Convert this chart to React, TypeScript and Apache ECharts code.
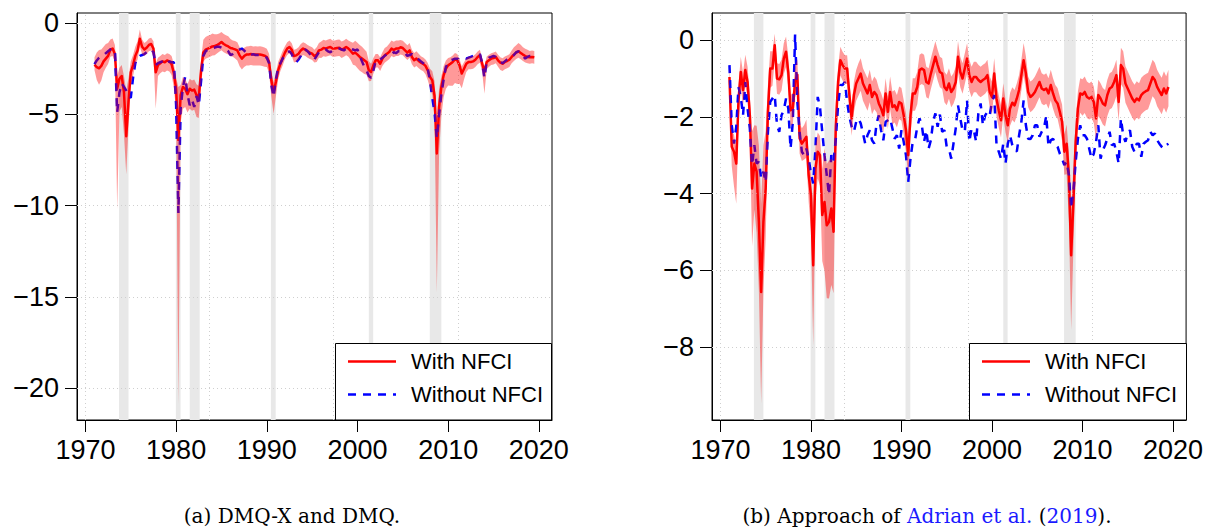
import React, { useEffect, useRef } from "react";
import * as echarts from "echarts";

// Quarterly observations, first quarter of 1971 through the third quarter of 2019.
const FIRST_YEAR = 1971;

const xTicks = [1970, 1980, 1990, 2000, 2010, 2020];
const xGridLines = [1970, 1983.69, 1997.38, 2011.07];
const yTicksA = [0, -5, -10, -15, -20];
const yTicksB = [0, -2, -4, -6, -8];

// NBER recession periods (start, end) in fractional years
const recessions: [number, number][] = [
  [1973.7, 1974.75],
  [1979.97, 1980.49],
  [1981.5, 1982.6],
  [1990.45, 1990.98],
  [2001.25, 2001.73],
  [2007.97, 2009.25],
];

// ---- Panel (a): DMQ-X (with NFCI) and DMQ (without NFCI) ----
const withNfciA = [
  -2.28, -2.42, -2.48, -2.35, -2.10, -1.95, -1.80, -1.45, -1.40, -1.70, -3.60, -3.05,
  -2.90, -3.80, -6.20, -4.30, -2.70, -2.30, -1.80, -1.50, -0.86, -1.30, -1.45, -1.35,
  -1.20, -1.15, -1.40, -2.70, -2.30, -2.20, -2.10, -2.15, -2.05, -2.10, -2.25, -2.75,
  -3.60, -6.40, -3.95, -3.50, -3.60, -3.90, -3.60, -3.70, -3.65, -3.95, -4.10, -2.60,
  -1.62, -1.46, -1.40, -1.35, -1.28, -1.26, -1.22, -1.13, -1.04, -1.15, -1.22, -1.28,
  -1.37, -1.40, -1.44, -1.50, -1.77, -1.95, -1.81, -1.73, -1.72, -1.70, -1.73, -1.72,
  -1.73, -1.72, -1.75, -1.79, -1.86, -2.13, -3.14, -3.78, -3.23, -2.59, -2.23, -1.92,
  -1.62, -1.40, -1.31, -1.46, -1.81, -1.77, -1.68, -1.50, -1.40, -1.46, -1.55, -1.62,
  -1.68, -1.81, -1.73, -1.50, -1.46, -1.37, -1.40, -1.35, -1.31, -1.40, -1.40, -1.37,
  -1.35, -1.46, -1.40, -1.31, -1.40, -1.53, -1.68, -1.62, -1.73, -1.86, -1.95, -2.04,
  -2.13, -2.59, -2.68, -2.32, -2.04, -2.04, -2.23, -1.95, -1.77, -1.68, -1.59, -1.40,
  -1.48, -1.40, -1.40, -1.33, -1.37, -1.50, -1.62, -1.50, -1.86, -2.04, -1.95, -2.08,
  -2.17, -2.24, -2.35, -2.59, -2.96, -3.14, -4.00, -7.15, -4.60, -3.50, -2.86, -2.50,
  -2.32, -2.23, -2.13, -1.99, -2.04, -2.32, -2.77, -2.50, -2.23, -2.13, -2.13, -2.10,
  -2.01, -1.86, -1.77, -2.23, -2.68, -2.13, -2.04, -1.95, -1.92, -1.86, -2.04, -2.17,
  -2.23, -2.13, -2.08, -2.01, -1.86, -1.73, -1.62, -1.55, -1.64, -1.73, -1.81, -1.86,
  -1.88, -1.86, -1.88,
];

const withoutNfciA = [
  -2.25, -2.05, -1.90, -1.80, -1.75, -1.65, -1.55, -1.45, -1.40, -1.50, -4.90, -3.80,
  -3.30, -3.50, -3.70, -4.00, -4.10, -3.00, -2.20, -1.90, -1.80, -1.75, -1.70, -1.60,
  -1.55, -1.45, -1.60, -2.30, -2.20, -2.15, -2.10, -2.05, -2.20, -2.10, -2.15, -2.15,
  -4.50, -10.40, -4.70, -3.50, -2.95, -3.90, -4.50, -4.20, -4.60, -4.00, -4.50, -3.20,
  -1.80, -1.55, -1.45, -1.40, -1.40, -1.35, -1.30, -1.30, -1.35, -1.40, -1.45, -1.55,
  -1.75, -1.70, -1.60, -1.50, -1.45, -1.40, -1.50, -1.65, -1.75, -1.75, -1.70, -1.75,
  -1.75, -1.75, -1.80, -1.85, -1.90, -2.20, -3.40, -4.05, -3.10, -2.45, -2.20, -1.95,
  -1.75, -1.60, -1.55, -1.70, -2.00, -2.15, -2.00, -1.80, -1.55, -1.45, -1.55, -1.70,
  -1.95, -2.00, -1.80, -1.60, -1.55, -1.50, -1.45, -1.55, -1.60, -1.50, -1.45, -1.40,
  -1.40, -1.45, -1.50, -1.40, -1.45, -1.40, -1.45, -1.50, -1.45, -1.80, -2.10, -2.40,
  -2.60, -2.90, -3.00, -2.60, -2.10, -2.00, -2.00, -1.90, -1.80, -1.70, -1.75, -1.70,
  -1.60, -1.65, -1.55, -1.55, -1.60, -1.65, -1.80, -1.75, -1.70, -1.80, -1.90, -2.00,
  -2.10, -2.20, -2.30, -2.50, -3.20, -4.10, -4.90, -6.30, -5.00, -3.90, -3.10, -2.40,
  -2.20, -2.05, -2.00, -1.95, -1.95, -2.00, -1.95, -1.90, -1.95, -1.90, -1.85, -1.80,
  -1.80, -1.75, -1.70, -2.20, -3.00, -2.10, -1.90, -1.85, -1.80, -1.85, -1.95, -2.10,
  -2.20, -2.10, -2.00, -1.95, -1.85, -1.75, -1.60, -1.55, -1.65, -1.80, -1.95, -1.85,
  -1.80, -1.80, -1.85,
];

// width of the shaded interval above / below the "with NFCI" line
const bandUpA = [
  0.40, 0.80, 1.00, 0.90, 0.80, 0.80, 0.70, 0.55, 0.55, 0.50, 0.70, 0.60,
  0.60, 0.90, 2.50, 1.30, 0.60, 0.55, 0.50, 0.50, 0.50, 0.40, 0.35, 0.35,
  0.35, 0.35, 0.40, 0.50, 0.40, 0.40, 0.40, 0.40, 0.40, 0.40, 0.45, 0.50,
  0.60, 2.90, 0.55, 0.55, 0.55, 0.55, 0.55, 0.55, 0.55, 0.60, 0.65, 0.60,
  0.70, 0.70, 0.70, 0.70, 0.70, 0.65, 0.60, 0.55, 0.55, 0.55, 0.55, 0.55,
  0.50, 0.45, 0.45, 0.45, 0.45, 0.45, 0.45, 0.45, 0.45, 0.45, 0.45, 0.45,
  0.45, 0.45, 0.45, 0.45, 0.45, 0.45, 0.50, 0.55, 0.50, 0.45, 0.40, 0.40,
  0.35, 0.35, 0.35, 0.35, 0.35, 0.35, 0.35, 0.35, 0.35, 0.35, 0.35, 0.35,
  0.35, 0.35, 0.40, 0.40, 0.45, 0.45, 0.45, 0.45, 0.45, 0.45, 0.45, 0.45,
  0.45, 0.45, 0.45, 0.45, 0.45, 0.50, 0.60, 0.65, 0.65, 0.65, 0.65, 0.60,
  0.55, 0.50, 0.45, 0.40, 0.35, 0.35, 0.35, 0.35, 0.40, 0.40, 0.45, 0.45,
  0.45, 0.45, 0.45, 0.40, 0.40, 0.40, 0.40, 0.40, 0.40, 0.40, 0.40, 0.40,
  0.35, 0.35, 0.35, 0.40, 0.45, 0.50, 0.80, 2.00, 1.00, 0.60, 0.50, 0.45,
  0.40, 0.35, 0.35, 0.35, 0.35, 0.35, 0.40, 0.35, 0.30, 0.30, 0.30, 0.30,
  0.30, 0.30, 0.30, 0.30, 0.30, 0.30, 0.30, 0.30, 0.30, 0.30, 0.30, 0.30,
  0.30, 0.30, 0.30, 0.30, 0.35, 0.40, 0.40, 0.45, 0.45, 0.40, 0.40, 0.40,
  0.35, 0.35, 0.35,
];

const bandDownA = [
  0.30, 0.70, 0.90, 0.80, 0.60, 0.50, 0.45, 0.40, 0.40, 0.45, 6.60, 1.80,
  1.70, 2.30, 2.10, 1.40, 0.80, 0.60, 0.50, 0.50, 0.45, 0.40, 0.35, 0.35,
  0.35, 0.35, 0.45, 2.00, 0.60, 0.55, 0.55, 0.55, 0.55, 0.55, 0.60, 0.80,
  1.20, 14.50, 1.50, 1.20, 1.00, 1.00, 1.10, 1.10, 1.10, 1.20, 1.10, 0.90,
  0.50, 0.50, 0.50, 0.50, 0.50, 0.50, 0.45, 0.45, 0.45, 0.45, 0.45, 0.45,
  0.45, 0.45, 0.50, 0.55, 0.60, 0.60, 0.60, 0.60, 0.60, 0.60, 0.60, 0.60,
  0.60, 0.60, 0.60, 0.60, 0.55, 0.60, 0.90, 1.20, 0.80, 0.50, 0.40, 0.40,
  0.35, 0.35, 0.35, 0.35, 0.35, 0.35, 0.35, 0.35, 0.35, 0.35, 0.35, 0.35,
  0.35, 0.35, 0.40, 0.40, 0.45, 0.45, 0.45, 0.45, 0.45, 0.45, 0.45, 0.45,
  0.45, 0.45, 0.45, 0.45, 0.45, 0.50, 0.60, 0.70, 0.75, 0.75, 0.75, 0.75,
  0.70, 0.60, 0.50, 0.45, 0.40, 0.40, 0.40, 0.40, 0.40, 0.40, 0.40, 0.40,
  0.40, 0.40, 0.40, 0.40, 0.40, 0.40, 0.40, 0.40, 0.40, 0.40, 0.40, 0.40,
  0.40, 0.40, 0.45, 0.55, 0.60, 0.80, 1.20, 7.60, 2.50, 1.60, 1.20, 1.10,
  1.10, 1.20, 1.30, 1.30, 1.30, 1.00, 0.80, 0.60, 0.45, 0.40, 0.40, 0.40,
  0.40, 0.40, 0.40, 0.45, 1.20, 0.40, 0.35, 0.35, 0.35, 0.35, 0.35, 0.40,
  0.40, 0.40, 0.40, 0.40, 0.35, 0.35, 0.35, 0.35, 0.35, 0.35, 0.35, 0.35,
  0.35, 0.35, 0.35,
];

// ---- Panel (b): approach of Adrian et al. (2019) ----
const withNfciB = [
  -0.96, -2.78, -2.91, -3.22, -1.55, -0.83, -1.30, -0.78, -1.09, -1.96, -3.87, -3.22,
  -3.43, -4.74, -6.57, -4.74, -3.87, -1.87, -0.74, -0.74, -0.13, -1.00, -1.02, -0.91,
  -0.48, -0.30, -0.83, -1.83, -1.78, -1.09, -0.90, -2.56, -2.70, -2.61, -2.52, -3.52,
  -4.04, -5.87, -3.35, -2.91, -3.00, -4.56, -4.22, -4.83, -4.74, -4.39, -5.00, -2.22,
  -1.09, -0.52, -0.65, -0.74, -0.74, -1.43, -2.04, -1.43, -1.13, -1.00, -0.87, -1.13,
  -1.26, -1.39, -1.17, -1.48, -1.35, -1.43, -1.65, -1.78, -1.96, -1.39, -1.87, -1.35,
  -1.74, -1.70, -1.83, -1.61, -1.65, -1.96, -2.35, -3.00, -1.96, -1.39, -1.39, -1.22,
  -0.78, -0.74, -0.78, -1.09, -1.13, -0.87, -0.65, -0.43, -0.65, -0.83, -0.87, -1.22,
  -1.30, -1.13, -1.35, -1.26, -1.09, -0.43, -0.83, -1.00, -0.74, -0.48, -0.91, -1.09,
  -0.96, -0.96, -1.04, -1.09, -1.04, -1.00, -0.91, -1.35, -1.48, -0.87, -1.52, -1.83,
  -2.09, -1.52, -1.96, -2.22, -1.78, -1.63, -1.70, -1.52, -1.30, -0.91, -0.52, -0.87,
  -1.35, -1.48, -1.43, -1.35, -1.22, -1.09, -1.26, -1.30, -1.26, -1.39, -1.17, -1.39,
  -1.57, -1.65, -1.87, -2.13, -2.91, -2.70, -3.52, -5.61, -4.22, -2.65, -1.78, -1.39,
  -1.42, -1.35, -1.48, -1.52, -1.48, -1.61, -2.04, -1.43, -1.52, -1.65, -1.70, -1.43,
  -1.26, -1.22, -1.09, -0.91, -1.61, -0.65, -0.74, -1.13, -1.26, -1.39, -1.52, -1.61,
  -1.52, -1.57, -1.43, -1.37, -1.33, -1.30, -1.13, -0.96, -1.04, -1.22, -1.33, -1.43,
  -1.26, -1.39, -1.22,
];

const withoutNfciB = [
  -0.65, -2.22, -2.70, -2.26, -1.22, -1.48, -1.96, -1.09, -1.78, -2.30, -3.26, -2.74,
  -3.22, -3.17, -3.61, -3.43, -3.70, -2.39, -1.61, -1.52, -1.43, -2.22, -2.39, -1.96,
  -1.83, -1.52, -1.78, -2.83, -2.13, 0.15, -1.61, -2.39, -2.91, -3.00, -2.83, -3.09,
  -3.48, -3.74, -2.83, -1.48, -1.74, -2.39, -3.00, -3.52, -4.04, -3.00, -3.17, -2.57,
  -1.70, -1.17, -1.17, -1.09, -1.61, -2.00, -2.26, -2.39, -2.13, -2.04, -2.17, -2.43,
  -2.70, -2.48, -2.35, -2.61, -2.70, -2.17, -1.96, -2.35, -2.61, -2.13, -2.09, -2.04,
  -2.30, -2.57, -2.48, -2.83, -2.35, -2.65, -3.00, -3.70, -3.09, -2.65, -2.61, -2.26,
  -2.04, -2.22, -2.65, -2.35, -2.83, -2.61, -2.13, -1.91, -2.26, -1.94, -2.39, -2.35,
  -2.78, -2.83, -3.09, -2.70, -2.30, -1.70, -2.04, -2.35, -2.39, -1.57, -2.65, -2.30,
  -2.35, -2.65, -1.91, -1.65, -2.22, -1.96, -1.87, -1.96, -1.61, -1.43, -2.70, -2.91,
  -3.09, -2.70, -3.22, -2.70, -2.48, -2.74, -2.87, -2.90, -2.48, -2.13, -1.57, -2.22,
  -2.57, -2.58, -2.48, -2.22, -2.22, -2.52, -2.39, -2.30, -1.96, -2.78, -2.61, -2.57,
  -2.70, -2.78, -2.96, -3.09, -3.26, -3.17, -3.52, -4.39, -3.96, -3.17, -2.57, -2.22,
  -2.48, -2.48, -2.57, -2.83, -3.09, -2.96, -2.65, -2.22, -3.09, -2.87, -2.74, -2.57,
  -2.39, -2.74, -2.70, -2.91, -3.22, -2.04, -2.48, -2.65, -2.43, -2.35, -2.78, -2.91,
  -2.70, -2.70, -3.04, -2.70, -2.65, -2.61, -2.39, -2.48, -2.43, -2.61, -2.70, -2.78,
  -2.83, -2.74, -2.70,
];

const bandUpB = [
  0.35, 0.40, 0.45, 0.40, 0.40, 0.40, 0.45, 0.40, 0.40, 0.50, 1.50, 1.00,
  1.20, 2.00, 2.30, 2.00, 1.50, 0.70, 0.45, 0.45, 0.30, 0.40, 0.40, 0.40,
  0.40, 0.40, 0.40, 0.40, 0.40, 0.40, 0.40, 0.40, 0.40, 0.40, 0.45, 0.50,
  0.55, 1.50, 0.60, 0.50, 0.50, 1.20, 1.40, 1.60, 1.60, 1.30, 1.80, 0.60,
  0.40, 0.35, 0.35, 0.35, 0.35, 0.35, 0.35, 0.35, 0.35, 0.40, 0.40, 0.40,
  0.40, 0.40, 0.40, 0.40, 0.40, 0.40, 0.40, 0.40, 0.40, 0.40, 0.40, 0.40,
  0.40, 0.40, 0.40, 0.40, 0.40, 0.40, 0.45, 0.45, 0.40, 0.40, 0.40, 0.40,
  0.40, 0.40, 0.40, 0.40, 0.40, 0.40, 0.40, 0.40, 0.40, 0.40, 0.40, 0.40,
  0.40, 0.40, 0.40, 0.40, 0.40, 0.40, 0.40, 0.40, 0.40, 0.40, 0.40, 0.40,
  0.40, 0.40, 0.40, 0.40, 0.40, 0.40, 0.40, 0.40, 0.40, 0.40, 0.40, 0.40,
  0.40, 0.40, 0.40, 0.40, 0.40, 0.40, 0.40, 0.40, 0.40, 0.40, 0.45, 0.45,
  0.40, 0.40, 0.40, 0.40, 0.40, 0.40, 0.40, 0.40, 0.40, 0.40, 0.40, 0.40,
  0.40, 0.40, 0.40, 0.45, 0.45, 0.50, 0.60, 1.20, 0.90, 0.60, 0.45, 0.40,
  0.40, 0.40, 0.40, 0.40, 0.40, 0.40, 0.40, 0.40, 0.40, 0.40, 0.40, 0.40,
  0.40, 0.40, 0.40, 0.40, 0.40, 0.45, 0.45, 0.45, 0.45, 0.45, 0.45, 0.45,
  0.45, 0.45, 0.45, 0.45, 0.45, 0.45, 0.45, 0.45, 0.45, 0.45, 0.45, 0.45,
  0.45, 0.45, 0.45,
];

const bandDownB = [
  0.35, 0.50, 0.90, 1.05, 0.60, 0.40, 0.40, 0.40, 0.40, 0.50, 1.50, 1.20,
  1.60, 1.80, 2.90, 1.80, 1.30, 0.70, 0.50, 0.45, 0.40, 0.40, 0.40, 0.40,
  0.40, 0.40, 0.40, 0.40, 0.40, 0.40, 0.40, 0.40, 0.45, 0.50, 0.55, 0.70,
  0.90, 2.10, 0.80, 0.70, 0.80, 1.20, 1.80, 1.90, 2.00, 2.00, 1.60, 0.80,
  0.50, 0.40, 0.40, 0.40, 0.40, 0.45, 0.45, 0.45, 0.45, 0.45, 0.45, 0.45,
  0.45, 0.45, 0.45, 0.45, 0.45, 0.45, 0.45, 0.45, 0.45, 0.45, 0.45, 0.45,
  0.45, 0.45, 0.45, 0.45, 0.45, 0.50, 0.55, 0.60, 0.50, 0.45, 0.45, 0.45,
  0.40, 0.40, 0.40, 0.40, 0.40, 0.40, 0.40, 0.40, 0.40, 0.40, 0.40, 0.40,
  0.40, 0.40, 0.40, 0.40, 0.40, 0.40, 0.40, 0.40, 0.40, 0.40, 0.40, 0.40,
  0.40, 0.40, 0.40, 0.40, 0.40, 0.40, 0.40, 0.40, 0.45, 0.45, 0.45, 0.45,
  0.45, 0.45, 0.45, 0.45, 0.45, 0.45, 0.45, 0.45, 0.40, 0.40, 0.40, 0.40,
  0.40, 0.40, 0.40, 0.40, 0.40, 0.40, 0.40, 0.40, 0.40, 0.40, 0.40, 0.40,
  0.40, 0.40, 0.45, 0.50, 0.60, 0.80, 1.20, 1.95, 1.20, 0.70, 0.55, 0.50,
  0.55, 0.55, 0.55, 0.55, 0.55, 0.55, 0.55, 0.55, 0.55, 0.55, 0.55, 0.55,
  0.55, 0.55, 0.55, 0.55, 0.50, 0.50, 0.50, 0.50, 0.50, 0.50, 0.50, 0.50,
  0.50, 0.50, 0.50, 0.50, 0.50, 0.50, 0.50, 0.50, 0.50, 0.50, 0.50, 0.50,
  0.50, 0.50, 0.50,
];

const RED = "#ff0000";
const BLUE = "#0000ff";
const BAND = "rgba(255,0,0,0.4)";
const SHADE = "#e8e8e8";
const GRIDLINE = "#cfcfcf";
const SANS = "'Liberation Sans', Arial, Helvetica, sans-serif";
const SERIF = "'DejaVu Serif', 'Liberation Serif', serif";

const quarterTime = (i: number) => FIRST_YEAR + i * 0.25;
const minus = (v: number) => (v < 0 ? "\u2212" + Math.abs(v) : String(v));

type Panel = {
  withNfci: number[];
  withoutNfci: number[];
  up: number[];
  down: number[];
  yMin: number;
  yMax: number;
  yTicks: number[];
  grid: { left: number; top: number; width: number; height: number };
};

const panels: Panel[] = [
  {
    withNfci: withNfciA,
    withoutNfci: withoutNfciA,
    up: bandUpA,
    down: bandDownA,
    yMin: -21.75,
    yMax: 0.55,
    yTicks: yTicksA,
    grid: { left: 77, top: 13, width: 475, height: 407 },
  },
  {
    withNfci: withNfciB,
    withoutNfci: withoutNfciB,
    up: bandUpB,
    down: bandDownB,
    yMin: -9.91,
    yMax: 0.71,
    yTicks: yTicksB,
    grid: { left: 712, top: 13, width: 475, height: 407 },
  },
];

function buildOption() {
  const grids = panels.map((p) => ({
    ...p.grid,
    show: true,
    borderColor: "#000",
    borderWidth: 1,
    backgroundColor: "transparent",
    containLabel: false,
  }));

  const xAxes = panels.map((_, k) => ({
    gridIndex: k,
    type: "value",
    min: 1969.07,
    max: 2021.45,
    axisLine: { show: true, onZero: false, lineStyle: { color: "#000", width: 1 } },
    splitLine: { show: false },
    axisTick: { show: true, customValues: xTicks, length: 12, lineStyle: { color: "#000", width: 1 } },
    axisLabel: {
      show: true,
      customValues: xTicks,
      color: "#000",
      fontSize: 27,
      fontFamily: SANS,
      margin: 16,
      formatter: (v: number) => String(v),
    },
  }));

  const yAxes = panels.map((p, k) => ({
    gridIndex: k,
    type: "value",
    min: p.yMin,
    max: p.yMax,
    axisLine: { show: true, onZero: false, lineStyle: { color: "#000", width: 1 } },
    splitLine: { show: false },
    axisTick: { show: true, customValues: p.yTicks, length: 12, lineStyle: { color: "#000", width: 1 } },
    axisLabel: {
      show: true,
      customValues: p.yTicks,
      color: "#000",
      fontSize: 27,
      fontFamily: SANS,
      margin: 18,
      formatter: (v: number) => minus(v),
    },
  }));

  const series: any[] = [];
  panels.forEach((p, k) => {
    series.push({
      type: "line",
      name: "recessions",
      xAxisIndex: k,
      yAxisIndex: k,
      data: [],
      silent: true,
      z: 1,
      markArea: {
        silent: true,
        itemStyle: { color: SHADE },
        data: recessions.map(([a, b]) => [{ xAxis: a }, { xAxis: b }]),
      },
    });
    series.push({
      type: "line",
      name: "grid",
      xAxisIndex: k,
      yAxisIndex: k,
      data: [],
      silent: true,
      z: 2,
      markLine: {
        silent: true,
        symbol: "none",
        label: { show: false },
        lineStyle: { color: GRIDLINE, type: [1, 3], width: 1 },
        data: [
          ...xGridLines.map((x) => ({ xAxis: x })),
          ...p.yTicks.map((y) => ({ yAxis: y })),
        ],
      },
    });
    series.push({
      type: "line",
      name: "With NFCI",
      xAxisIndex: k,
      yAxisIndex: k,
      data: p.withNfci.map((v, i) => [quarterTime(i), v]),
      showSymbol: false,
      symbol: "none",
      lineStyle: { color: RED, width: 2.5, join: "round" },
      z: 3,
    });
    series.push({
      type: "line",
      name: "Without NFCI",
      xAxisIndex: k,
      yAxisIndex: k,
      data: p.withoutNfci.map((v, i) => [quarterTime(i), v]),
      showSymbol: false,
      symbol: "none",
      lineStyle: { color: BLUE, width: 2.5, type: [8, 7], cap: "butt" },
      z: 4,
    });
    series.push({
      type: "custom",
      name: "interval",
      xAxisIndex: k,
      yAxisIndex: k,
      silent: true,
      z: 5,
      data: [[1995, -1]],
      encode: { x: 0, y: 1 },
      renderItem: (_params: any, api: any) => {
        const n = Math.min(p.withNfci.length, p.up.length, p.down.length);
        const pts: number[][] = [];
        for (let i = 0; i < n; i++) pts.push(api.coord([quarterTime(i), p.withNfci[i] + p.up[i]]));
        for (let i = n - 1; i >= 0; i--) pts.push(api.coord([quarterTime(i), p.withNfci[i] - p.down[i]]));
        return { type: "polygon", shape: { points: pts }, style: { fill: BAND } };
      },
    });
  });

  const legendBox = (x: number, w: number) => [
    {
      type: "rect",
      z: 100,
      shape: { x: x + 0.5, y: 343.5, width: w, height: 76.5 },
      style: { fill: "#fff", stroke: "#000", lineWidth: 1 },
    },
    {
      type: "line",
      z: 101,
      shape: { x1: x + 13, y1: 361.5, x2: x + 61, y2: 361.5 },
      style: { stroke: RED, lineWidth: 2.5 },
    },
    {
      type: "line",
      z: 101,
      shape: { x1: x + 13, y1: 394.5, x2: x + 61, y2: 394.5 },
      style: { stroke: BLUE, lineWidth: 2.5, lineDash: [8, 7] },
    },
    {
      type: "text",
      z: 101,
      x: x + 76,
      y: 361.5,
      style: { text: "With NFCI", fontSize: 22, fontFamily: SANS, fill: "#000", align: "left", verticalAlign: "middle" },
    },
    {
      type: "text",
      z: 101,
      x: x + 76,
      y: 394.5,
      style: { text: "Without NFCI", fontSize: 22, fontFamily: SANS, fill: "#000", align: "left", verticalAlign: "middle" },
    },
  ];

  const graphic = [
    ...legendBox(335, 216),
    ...legendBox(969, 217),
    {
      type: "text",
      z: 100,
      x: 292,
      y: 516,
      style: {
        text: "(a) DMQ-X and DMQ.",
        fontSize: 20,
        lineHeight: 22,
        fontFamily: SERIF,
        fill: "#000",
        align: "center",
        verticalAlign: "middle",
      },
    },
    {
      type: "text",
      z: 100,
      x: 927,
      y: 516,
      style: {
        text: "{k|(b) Approach of }{l|Adrian et al.}{k| (}{l|2019}{k|).}",
        align: "center",
        verticalAlign: "middle",
        rich: {
          k: { fill: "#000", fontSize: 20, lineHeight: 22, fontFamily: SERIF },
          l: { fill: "#1a1aff", fontSize: 20, lineHeight: 22, fontFamily: SERIF },
        },
      },
    },
  ];

  return {
    animation: false,
    backgroundColor: "#fff",
    grid: grids,
    xAxis: xAxes,
    yAxis: yAxes,
    series,
    graphic,
  };
}

export default function App() {
  const ref = useRef<HTMLDivElement>(null);
  useEffect(() => {
    if (!ref.current) return;
    const chart = echarts.init(ref.current, null, { renderer: "svg" });
    chart.setOption(buildOption() as any);
    return () => chart.dispose();
  }, []);
  return (
    <div
      ref={ref}
      style={{ position: "fixed", left: 0, top: 0, width: 1206, height: 529, background: "#fff" }}
    />
  );
}
